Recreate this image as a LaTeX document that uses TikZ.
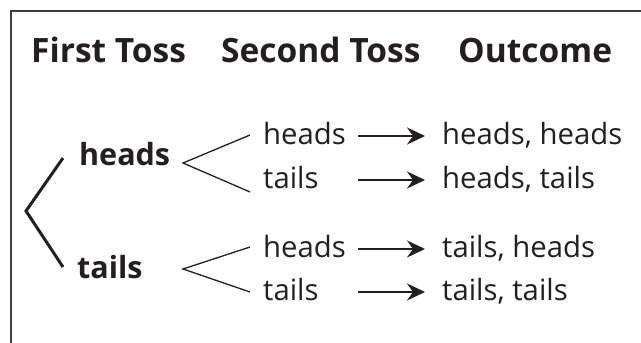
\documentclass[tikz,border=0pt]{standalone}
\usepackage{fontspec}
\setmainfont{Open Sans}
\usetikzlibrary{positioning, arrows.meta, calc}
\definecolor{ink}{RGB}{35,31,32}
\definecolor{frame}{RGB}{60,60,60}

\begin{document}
\begin{tikzpicture}[x=1pt, y=-1pt,
    txt/.style={anchor=base west, inner sep=0pt, text=ink},
    head/.style={txt, font=\fontsize{33.5}{36}\selectfont\bfseries},
    first/.style={txt, font=\fontsize{30.5}{33}\selectfont\bfseries},
    second/.style={txt, font=\fontsize{29.3}{32}\selectfont},
    branch/.style={ink, line width=1.3pt},
    outarrow/.style={ink, line width=1.5pt, -{Stealth[length=18pt, width=17pt, inset=6pt]}}]
    \useasboundingbox (0,0) rectangle (641,343);

    % Marco (solo arriba e izquierda)
    \draw[frame, line width=2pt] (10.5,343) -- (10.5,10.5) -- (641,10.5);

    % Cabecera
    \node[head] (hfirst) at (31,62) {First Toss};
    \node[head] (hsecond) at (221,62) {Second Toss};
    \node[head] (hout) at (458,62) {Outcome};

    % Primer lanzamiento
    \node[first] (h1) at (79,165) {heads};
    \node[first] (t1) at (77,278) {tails};

    % Segundo lanzamiento
    \node[second] (hh) at (263,144) {heads};
    \node[second] (ht) at (263,188) {tails};
    \node[second] (th) at (263,257) {heads};
    \node[second] (tt) at (263,300) {tails};

    % Resultados
    \node[second] (ohh) at (442,144) {heads, heads};
    \node[second] (oht) at (442,188) {heads, tails};
    \node[second] (oth) at (442,257) {tails, heads};
    \node[second] (ott) at (442,300) {tails, tails};

    % Rama grande del primer lanzamiento
    \coordinate (root) at (26,211);
    \coordinate (rootup) at (63,158);
    \coordinate (rootdown) at (63,267);
    \draw[ink, line width=3pt] (rootup) -- (root) -- (rootdown);

    % Ramas del segundo lanzamiento
    \coordinate (ah) at (183,163);
    \coordinate (at) at (183,269);
    \draw[branch] ($(hh.base west)+(-13,-9)$) -- (ah) -- ($(ht.base west)+(-13,4)$);
    \draw[branch] ($(th.base west)+(-13,-10)$) -- (at) -- ($(tt.base west)+(-13,-8)$);

    % Flechas hacia los resultados
    \foreach \s/\o in {hh/ohh, ht/oht, th/oth, tt/ott}
        \draw[outarrow] ($(\s.base west)+(95,-8)$) -- ($(\o.base west)+(-17,-8)$);
\end{tikzpicture}
\end{document}
